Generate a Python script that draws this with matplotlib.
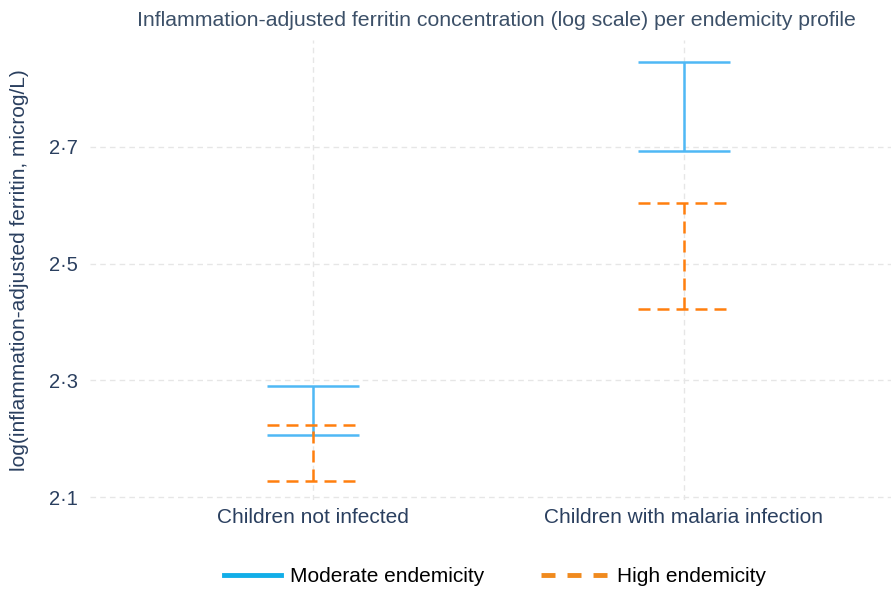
import matplotlib
matplotlib.use('Agg')
import matplotlib.pyplot as plt
from matplotlib.lines import Line2D

plt.rcParams['font.family'] = ['Liberation Sans', 'DejaVu Sans']

# data (log ferritin, 95% CI bounds)
categories = ['Children not infected', 'Children with malaria infection']
moderate_low = [2.207, 2.693]
moderate_high = [2.290, 2.846]
high_low = [2.127, 2.423]
high_high = [2.223, 2.603]
yticks = [2.1, 2.3, 2.5, 2.7]
ytick_labels = ['2·1', '2·3', '2·5', '2·7']

blue = '#4fb8f5'
orange = '#ff7f0e'
text_col = '#2a3f5f'
cap = 0.124

fig = plt.figure(figsize=(8.91, 5.90), dpi=100)
ax = fig.add_axes([90 / 891, 1 - 500 / 590, 801 / 891, 460 / 590])

xs = list(range(len(categories)))
dash = (0, (4.8, 2.8))

# moderate endemicity
ax.vlines(xs, moderate_low, moderate_high, color=blue, lw=1.8, zorder=3)
ax.hlines(moderate_low, [x - cap for x in xs], [x + cap for x in xs], color=blue, lw=1.8, zorder=3)
ax.hlines(moderate_high, [x - cap for x in xs], [x + cap for x in xs], color=blue, lw=1.8, zorder=3)

# high endemicity
ax.vlines(xs, high_low, high_high, color=orange, lw=1.8, linestyles=[dash], zorder=4)
ax.hlines(high_low, [x - cap for x in xs], [x + cap for x in xs], color=orange, lw=1.8, linestyles=[dash], zorder=4)
ax.hlines(high_high, [x - cap for x in xs], [x + cap for x in xs], color=orange, lw=1.8, linestyles=[dash], zorder=4)

ax.set_xlim(-0.601, 1.558)
ax.set_ylim(2.095, 2.883)
ax.set_xticks(xs)
ax.set_xticklabels(categories, fontsize=15, color=text_col)
ax.set_yticks(yticks)
ax.set_yticklabels(ytick_labels, fontsize=14.5, color=text_col)
ax.tick_params(axis='x', length=0, pad=6)
ax.tick_params(axis='y', length=0, pad=9)
ax.grid(True, color='#e6e6e6', linestyle=(0, (4, 3)), lw=1)
ax.set_axisbelow(True)
for s in ax.spines.values():
    s.set_visible(False)

ax.set_ylabel('log(inflammation-adjusted ferritin, microg/L)', fontsize=15, color=text_col)
ax.yaxis.set_label_coords(-0.076, 0.5)
fig.text(0.557, 1 - 20 / 590, 'Inflammation-adjusted ferritin concentration (log scale) per endemicity profile',
         ha='center', va='center', fontsize=15.3, color='#3c5068')

# legend: two entries with different handle lengths, as in the reference
leg_y = 1 - 577 / 590
leg1 = fig.legend([Line2D([0], [0], color='#12aee8', lw=3.5)], ['Moderate endemicity'],
                  loc='center left', bbox_to_anchor=(224 / 891, leg_y), frameon=False, fontsize=15,
                  handlelength=2.74, handletextpad=0.43, borderpad=0, borderaxespad=0)
fig.legend([Line2D([0], [0], color='#f08a1e', lw=3.5, linestyle=(0, (2.88, 2.47)))], ['High endemicity'],
           loc='center left', bbox_to_anchor=(541 / 891, leg_y), frameon=False, fontsize=15,
           handlelength=3.22, handletextpad=0.43, borderpad=0, borderaxespad=0)

fig.savefig('out.png', dpi=100)
